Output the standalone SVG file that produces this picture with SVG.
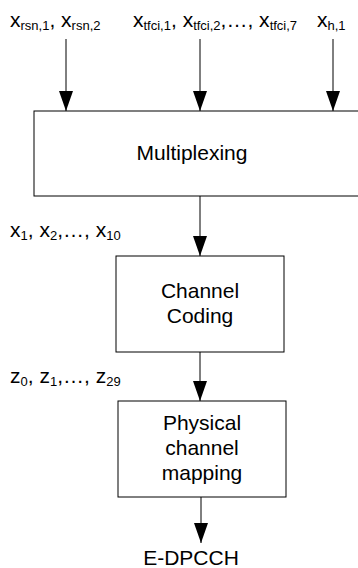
<svg xmlns="http://www.w3.org/2000/svg" width="358" height="568" viewBox="0 0 358 568">
<defs>
<marker id="arr" viewBox="0 0 20 14" refX="20" refY="7" markerWidth="20" markerHeight="14" markerUnits="userSpaceOnUse" orient="auto">
<path d="M0,0 L20,7 L0,14 z" fill="#000"/>
</marker>
</defs>
<style>
text{font-family:"Liberation Sans",Arial,sans-serif;font-size:21px;fill:#000}
.c{text-anchor:middle}
.s{font-size:13px}
.box{fill:#fff;stroke:#000;stroke-width:1}
.ln{stroke:#000;stroke-width:1;fill:none;marker-end:url(#arr)}
</style>
<g id="connectors">
<line class="ln" x1="66" y1="39" x2="66" y2="111"/>
<line class="ln" x1="200" y1="39" x2="200" y2="111"/>
<line class="ln" x1="333" y1="39" x2="333" y2="111"/>
<line class="ln" x1="200" y1="196" x2="200" y2="256"/>
<line class="ln" x1="200" y1="352" x2="200" y2="401"/>
<line class="ln" x1="201" y1="497" x2="201" y2="543"/>
</g>
<g id="labels">
<text x="10" y="27">x<tspan class="s" dy="3">rsn,1</tspan><tspan dy="-3">, x</tspan><tspan class="s" dy="3">rsn,2</tspan></text>
<text x="133" y="27">x<tspan class="s" dy="3">tfci,1</tspan><tspan dy="-3">, x</tspan><tspan class="s" dy="3">tfci,2</tspan><tspan dy="-3">,…, x</tspan><tspan class="s" dy="3">tfci,7</tspan></text>
<text x="317" y="27">x<tspan class="s" dy="3">h,1</tspan></text>
<text x="10" y="237">x<tspan class="s" dy="3">1</tspan><tspan dy="-3">, x</tspan><tspan class="s" dy="3">2</tspan><tspan dy="-3">,…, x</tspan><tspan class="s" dy="3">10</tspan></text>
<text x="10" y="383">z<tspan class="s" dy="3">0</tspan><tspan dy="-3">, z</tspan><tspan class="s" dy="3">1</tspan><tspan dy="-3">,…, z</tspan><tspan class="s" dy="3">29</tspan></text>
</g>
<g id="multiplexing">
<rect class="box" x="34" y="111" width="334" height="85"/>
<text class="c" x="192" y="160">Multiplexing</text>
</g>
<g id="channel-coding">
<rect class="box" x="116" y="256" width="168" height="96"/>
<text class="c" x="200" y="298">Channel</text>
<text class="c" x="200" y="323">Coding</text>
</g>
<g id="physical-mapping">
<rect class="box" x="118" y="401" width="168" height="96"/>
<text class="c" x="202" y="430">Physical</text>
<text class="c" x="202" y="455">channel</text>
<text class="c" x="202" y="480">mapping</text>
</g>
<g id="edpcch">
<text class="c" x="191" y="565">E-DPCCH</text>
</g>
</svg>
